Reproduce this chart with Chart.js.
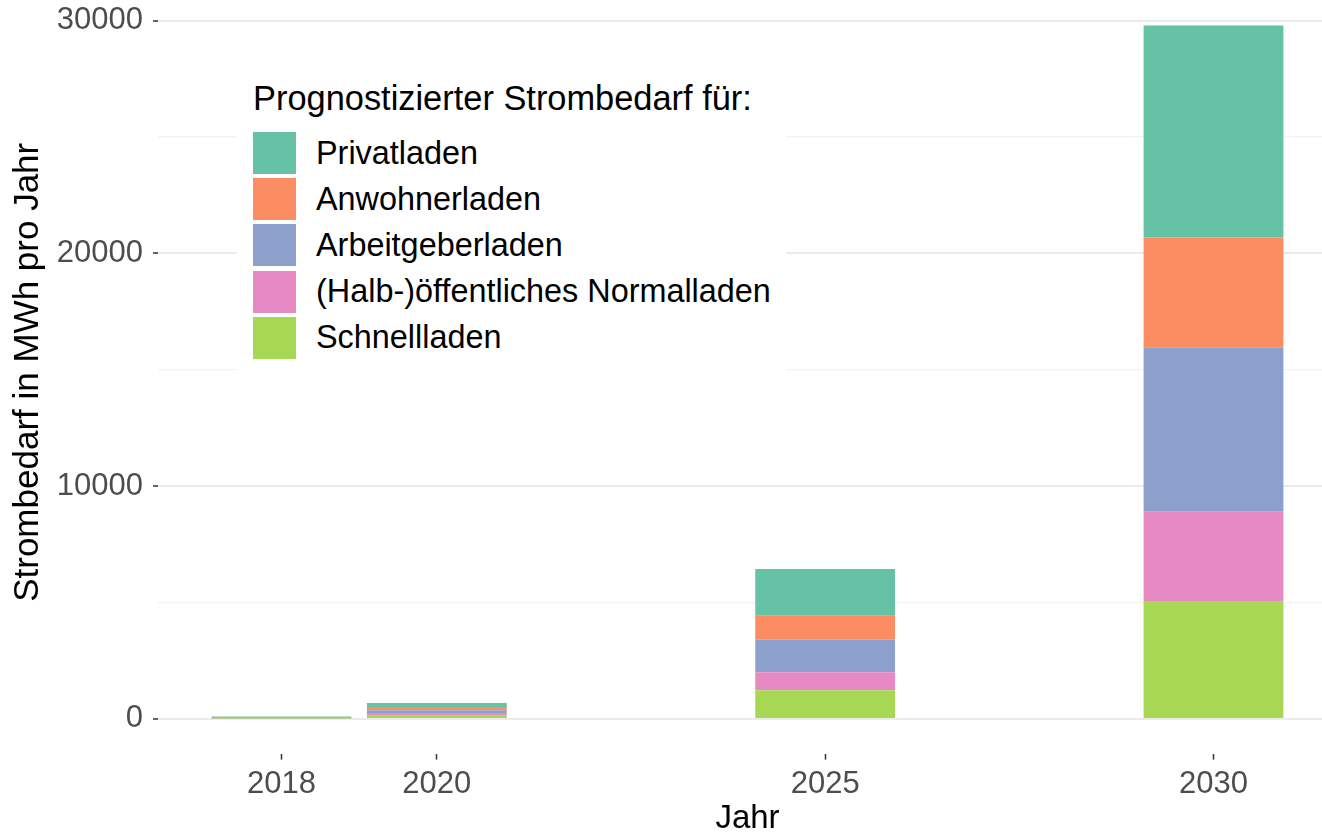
<!DOCTYPE html>
<html>
<head>
<meta charset="utf-8">
<title>Strombedarf</title>
<script src="https://cdn.jsdelivr.net/npm/chart.js@4/dist/chart.umd.min.js"></script>
<style>
  body { margin: 0; overflow: hidden; background: #fff; font-family: "Liberation Sans", Arial, sans-serif; }
  #wrap { position: absolute; left: 0; top: -9px; }
  #legende { position: absolute; left: 237px; top: 72px; width: 549px; height: 308px; background: #fff; }
  #legende .titel { position: absolute; left: 16px; top: 10px; font-size: 34.4px; line-height: 33px; color: #000; white-space: nowrap; }
  #legende .zeile { position: absolute; left: 16px; height: 42px; display: flex; align-items: center; font-size: 32.4px; color: #000; white-space: nowrap; }
  #legende .box { width: 43px; height: 42px; margin-right: 20px; }
</style>
</head>
<body>
<div id="wrap"><canvas id="wykres" width="1337" height="846"></canvas></div>
<div id="legende"><div class="titel">Prognostizierter Strombedarf für:</div></div>

<script>
// Werte (MWh pro Jahr), von unten nach oben gestapelt
var jahre = [2018, 2020, 2025, 2030];
var schnellladen     = [15, 140, 1230, 5030];
var normalladen      = [25, 115, 775, 3870];
var arbeitgeberladen = [35, 115, 1400, 7050];
var anwohnerladen    = [10, 140, 1030, 4730];
var privatladen      = [25, 170, 2010, 9110];
var kategorien = ["Schnellladen", "(Halb-)öffentliches Normalladen", "Arbeitgeberladen", "Anwohnerladen", "Privatladen"];
var werte = [schnellladen, normalladen, arbeitgeberladen, anwohnerladen, privatladen];
var farben = ["#A6D854", "#E78AC3", "#8DA0CB", "#FC8D62", "#66C2A5"];
var yGitter = [0, 5000, 10000, 15000, 20000, 25000, 30000];
var yBeschriftung = [0, 10000, 20000, 30000];

var schrift = "'Liberation Sans', Arial, sans-serif";

var datasets = kategorien.map(function (name, k) {
    return {
        label: name,
        backgroundColor: farben[k],
        borderWidth: 0,
        barPercentage: 0.9,
        categoryPercentage: 1.0,
        data: jahre.map(function (j, i) { return { x: j, y: werte[k][i] }; })
    };
});

function istHaupt(v) { return yBeschriftung.indexOf(v) !== -1; }

var wykres = new Chart(document.getElementById("wykres").getContext("2d"), {
    type: "bar",
    data: { datasets: datasets },
    options: {
        responsive: false,
        animation: false,
        devicePixelRatio: 1,
        layout: { padding: 0 },
        plugins: { legend: { display: false }, tooltip: { enabled: false } },
        scales: {
            x: {
                type: "linear",
                stacked: true,
                offset: false,
                min: 2016.41,
                max: 2031.59,
                afterBuildTicks: function (s) { s.ticks = jahre.map(function (j) { return { value: j }; }); },
                afterFit: function (s) { s.height = 83.4; s.paddingLeft = 0; s.paddingRight = 0; },
                border: { display: false },
                grid: { offset: false, drawOnChartArea: false, color: "#333333", tickColor: "#333333", tickLength: 6, tickWidth: 1.5 },
                ticks: {
                    autoSkip: false,
                    maxRotation: 0,
                    padding: 6,
                    color: "#4D4D4D",
                    font: { family: schrift, size: 31 },
                    callback: function (v) { return String(v); }
                },
                title: {
                    display: true,
                    text: "Jahr",
                    color: "#000",
                    font: { family: schrift, size: 33, lineHeight: 1.1 },
                    padding: 0
                }
            },
            y: {
                stacked: true,
                min: -1489,
                max: 31274,
                afterBuildTicks: function (s) { s.ticks = yGitter.map(function (v) { return { value: v }; }); },
                afterFit: function (s) { s.width = 158; s.paddingTop = 0; s.paddingBottom = 0; },
                border: { display: false },
                grid: {
                    color: function (c) { return istHaupt(c.tick.value) ? "#EBEBEB" : "#F2F2F2"; },
                    lineWidth: function (c) { return istHaupt(c.tick.value) ? 2 : 1.2; },
                    tickColor: function (c) { return istHaupt(c.tick.value) ? "#333333" : "rgba(0,0,0,0)"; },
                    tickWidth: 1.5,
                    tickLength: 5
                },
                ticks: {
                    autoSkip: false,
                    padding: 10,
                    color: "#4D4D4D",
                    font: { family: schrift, size: 31 },
                    callback: function (v) { return istHaupt(v) ? String(v) : ""; }
                },
                title: {
                    display: true,
                    text: "Strombedarf in MWh pro Jahr",
                    color: "#000",
                    font: { family: schrift, size: 35, lineHeight: 1.2 },
                    padding: { top: 7 }
                }
            }
        }
    }
});

// Legende: oberste Stapelschicht zuerst
var leg = document.getElementById("legende");
for (var r = 0; r < kategorien.length; r++) {
    var k = kategorien.length - 1 - r;
    var zeile = document.createElement("div");
    zeile.className = "zeile";
    zeile.style.top = (60 + r * 46.2) + "px";
    var box = document.createElement("div");
    box.className = "box";
    box.style.background = farben[k];
    zeile.appendChild(box);
    zeile.appendChild(document.createTextNode(kategorien[k]));
    leg.appendChild(zeile);
}
</script>
</body>
</html>
